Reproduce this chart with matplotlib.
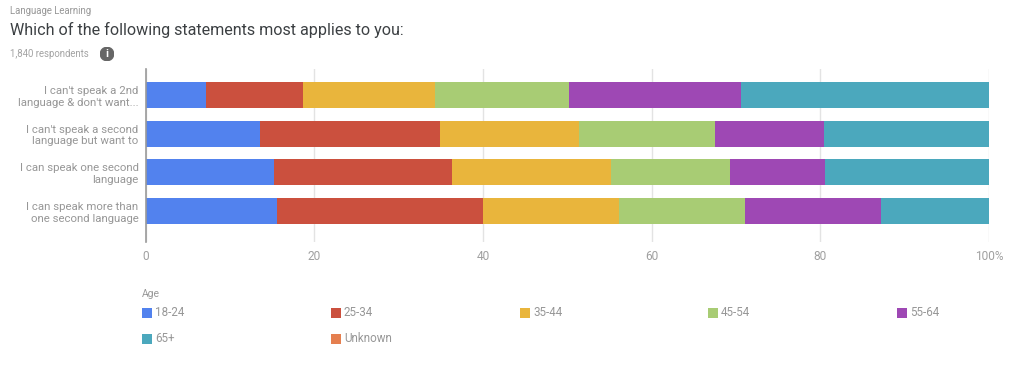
import matplotlib
matplotlib.use("Agg")
import matplotlib.pyplot as plt
from matplotlib.patches import Rectangle, Circle
import numpy as np

plt.rcParams['font.family'] = ['Roboto', 'DejaVu Sans']

categories = ["I can't speak a 2nd\nlanguage & don't want...",
              "I can't speak a second\nlanguage but want to",
              "I can speak one second\nlanguage",
              "I can speak more than\none second language"]
age_groups = ["18-24", "25-34", "35-44", "45-54", "55-64", "65+", "Unknown"]
age_18_24 = [7.2, 13.6, 15.2, 15.6]
age_25_34 = [11.5, 21.3, 21.1, 24.4]
age_35_44 = [15.6, 16.5, 18.9, 16.1]
age_45_54 = [15.9, 16.1, 14.1, 15.0]
age_55_64 = [20.4, 12.9, 11.3, 16.1]
age_65_up = [29.4, 19.6, 19.4, 12.8]
age_unknown = [0, 0, 0, 0]
series = [age_18_24, age_25_34, age_35_44, age_45_54, age_55_64, age_65_up, age_unknown]
colors = ["#5282EE", "#CB503E", "#E9B53C", "#A8CC74", "#9E48B4", "#4BA8BD", "#E57F4F"]
xticks = [0, 20, 40, 60, 80, 100]
xticklabels = ["0", "20", "40", "60", "80", "100%"]

W, H = 1024, 365
fig = plt.figure(figsize=(W/100, H/100), dpi=100, facecolor="white")
L, R, T, B = 145.5, 989, 69, 242
ax = fig.add_axes([L/W, 1-B/H, (R-L)/W, (B-T)/H])
pos = np.arange(len(categories))
left = np.zeros(len(categories))
for vals, c in zip(series, colors):
    ax.barh(pos, vals, left=left, height=0.67, color=c, linewidth=0, zorder=3)
    left += np.array(vals)
ax.set_xlim(0, 100)
ax.set_ylim(3.80, -0.672)
for s in ["top", "right", "bottom"]:
    ax.spines[s].set_visible(False)
ax.spines["left"].set_color("#9a9a9a")
ax.spines["left"].set_linewidth(1.2)
ax.spines["left"].set_zorder(4)
ax.set_xticks(xticks, xticklabels, color="#a0a0a0", fontsize=8.6)
ax.set_yticks(pos, categories, color="#979797", fontsize=8.2, linespacing=1.2)
ax.tick_params(axis="both", length=0)
ax.tick_params(axis="x", pad=6)
ax.tick_params(axis="y", pad=5)
ax.grid(axis="x", color="#e3e3e3", linewidth=1, zorder=0)

fig.text(10/W, 1-11/H, "Language Learning", color="#979797", fontsize=6.9, va="center")
fig.text(10/W, 1-30/H, "Which of the following statements most applies to you:", color="#3c4043", fontsize=11.6, va="center")
fig.text(10/W, 1-54/H, "1,840 respondents", color="#a3a3a3", fontsize=6.9, va="center")
icon = fig.add_axes([100/W, 1-61/H, 14/W, 14/H]); icon.axis("off")
icon.set_xlim(0, 1); icon.set_ylim(0, 1)
icon.add_patch(Circle((.5, .5), .48, color="#666666"))
icon.text(.5, .47, "i", color="white", fontsize=8, fontweight="bold", ha="center", va="center")

fig.text(142/W, 1-294/H, "Age", color="#979797", fontsize=7.5, va="center")
col_x = [142, 331, 520, 708, 897]
row_y = [313, 339]
for i, (name, c) in enumerate(zip(age_groups, colors)):
    x, y = col_x[i % 5], row_y[i // 5]
    fig.add_artist(Rectangle((x/W, 1-(y+5)/H), 10/W, 10/H, color=c, linewidth=0, transform=fig.transFigure))
    fig.text((x+13)/W, 1-y/H, name, color="#979797", fontsize=8.4, va="center")
fig.savefig("out.png", dpi=100)
